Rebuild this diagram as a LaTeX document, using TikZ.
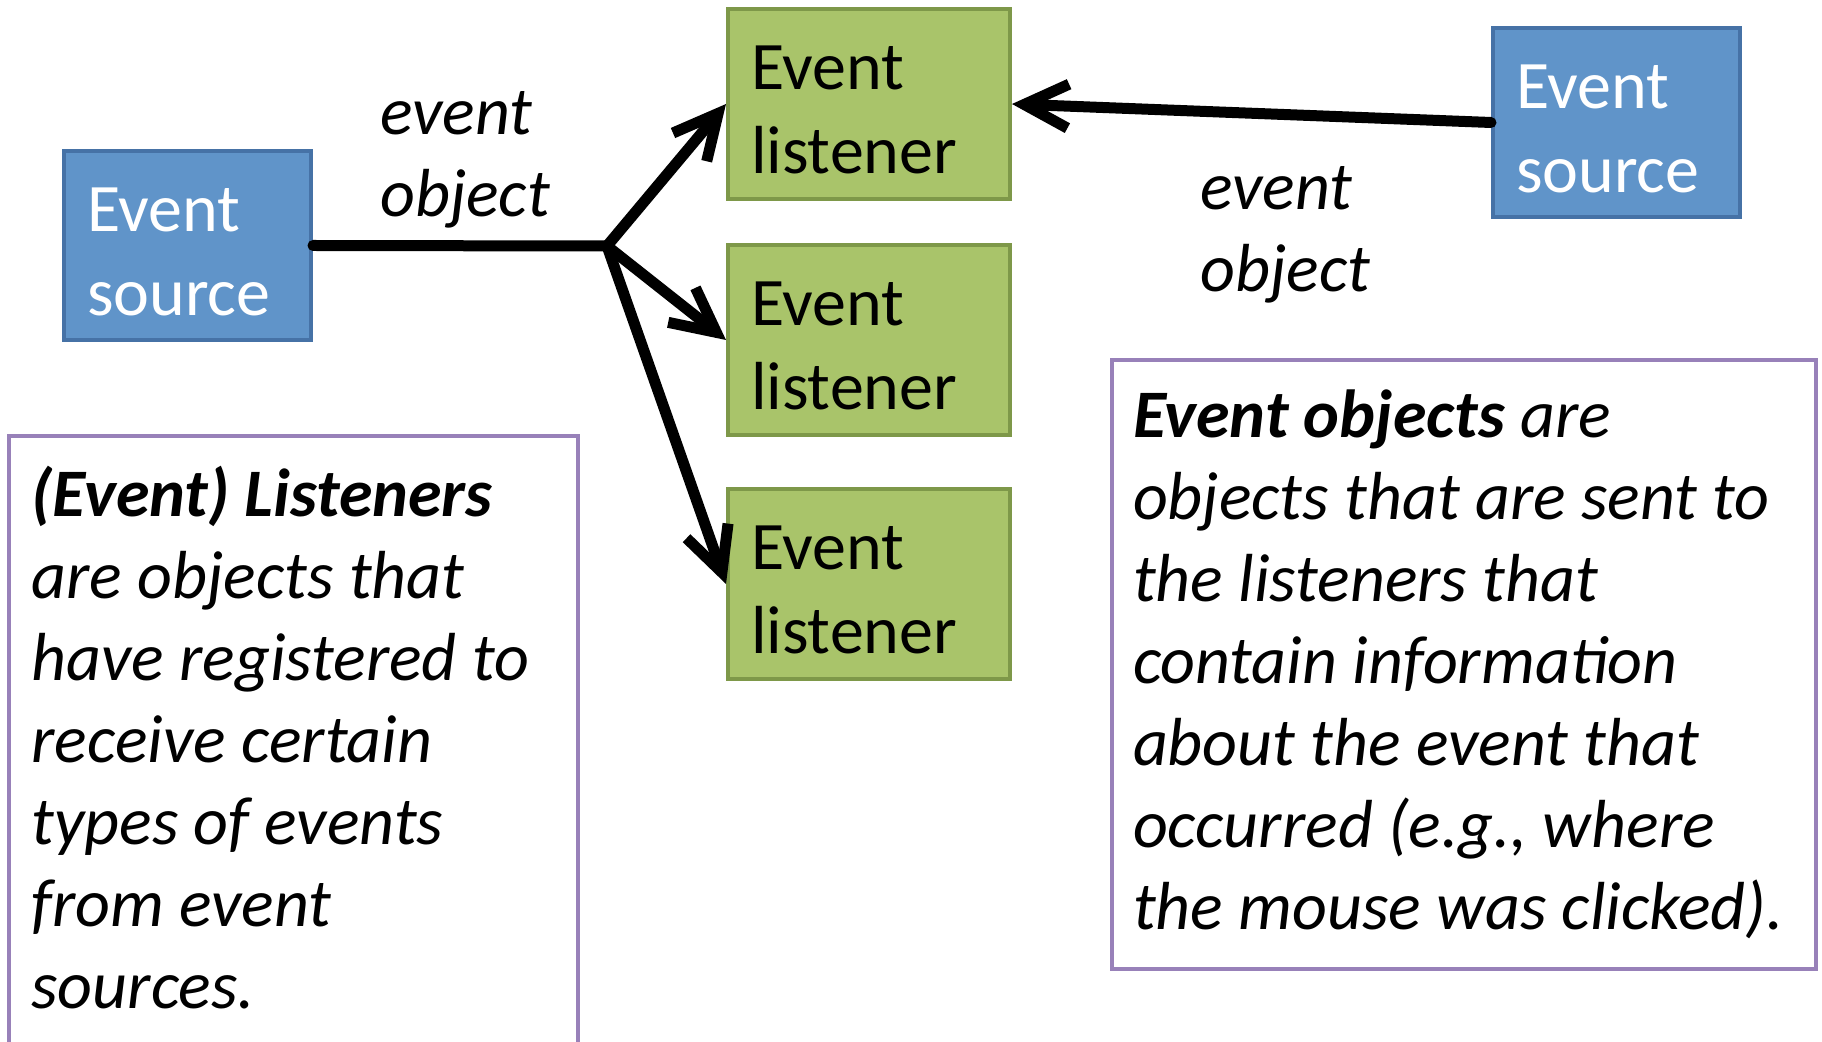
\documentclass[tikz,border=0pt]{standalone}
\usepackage{fontspec}
\setmainfont{Carlito}
\usetikzlibrary{arrows.meta}
\definecolor{srcfill}{RGB}{96,148,201}
\definecolor{srcline}{RGB}{70,114,166}
\definecolor{lisfill}{RGB}{169,196,106}
\definecolor{lisline}{RGB}{126,152,73}
\definecolor{noteline}{RGB}{152,129,185}
\newcommand{\slidefont}{\fontsize{34}{42}\selectfont}
\newcommand{\notefont}{\fontsize{34}{41}\selectfont\itshape}
\tikzstyle{source} = [rectangle,
minimum height=94.5pt,
text width=100.5pt,
inner xsep=11.5pt,
align=flush left,
execute at begin node={\rule{0pt}{28pt}},
draw=srcline, line width=2pt,
fill=srcfill, text=white, font=\slidefont]
\tikzstyle{listener} = [rectangle,
minimum height=95pt,
text width=118pt,
inner xsep=11.5pt,
align=flush left,
execute at begin node={\rule{0pt}{28pt}},
draw=lisline, line width=2pt,
fill=lisfill, font=\slidefont]
\tikzstyle{msg} = [align=left, inner sep=0pt, font=\notefont]
\tikzstyle{note} = [align=flush left, inner xsep=11pt, inner ysep=15pt, font=\notefont]
\tikzstyle{noteframe} = [draw=noteline, line width=2pt]
\tikzstyle{wire} = [line width=5.5pt, line cap=round]
\tikzstyle{arrow} = [line width=5.5pt, line cap=round,
-{Straight Barb[length=22pt, width=22pt]}]

\begin{document}
\begin{tikzpicture}[x=0.5pt, y=-0.5pt, node distance=118pt]
    \useasboundingbox (0,0) rectangle (1822,1042);

    \node (srcL) [source] at (187.5,245.5) {Event\\source};
    \node (lis1) [listener] at (869,104) {Event\\listener};
    \node (lis2) [listener, below of=lis1] {Event\\listener};
    \node (lis3) [listener, below of=lis2, yshift=-4pt] {Event\\listener};
    \node (srcR) [source] at (1616.5,122.5) {Event\\source};
    \coordinate (jn) at (607,246);

    \node (msgL) [msg, anchor=west] at (380,159.5) {event\\object};
    \node (msgR) [msg, anchor=west] at (1200,235) {event\\object};

    \draw [wire] (srcL.east) -- (jn);
    \draw [arrow] (jn) -- (lis1.west);
    \draw [arrow] (jn) -- (lis2.west);
    \draw [arrow] (jn) -- (lis3.west);
    \draw [arrow] (srcR.west) -- (lis1.east);

    \node (noteL) [note, text width=262.5pt, anchor=north west] at (9,436)
        {\textbf{(Event) Listeners}\\are objects that\\have registered to\\receive certain\\types of events\\from event\\sources.};
    \draw [noteframe] (noteL.north west) rectangle (578,1060);
    \node (noteR) [note, noteframe, text width=331pt, inner xsep=10.5pt, anchor=north west] at (1110,358)
        {\textbf{Event objects} are\\objects that are sent to\\the listeners that\\contain information\\about the event that\\occurred (e.g., where\\the mouse was clicked).};

\end{tikzpicture}
\end{document}
